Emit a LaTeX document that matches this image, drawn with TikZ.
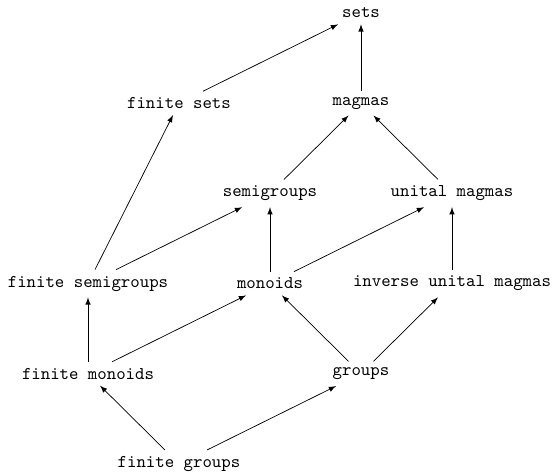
\documentclass[tikz,border=0pt]{standalone}
\usepackage{tikz}

\begin{document}
\begin{tikzpicture}[x=1.781cm, y=1.765cm, >=latex]
    \tikzstyle{every node} = [font=\ttfamily]
    \useasboundingbox (-0.967, 0.144) rectangle (5.099, -5.111);

    \node (s) at (3, 0) {sets};
    \node (fs) at (1, -1) {finite sets};
    \node (m) at (3, -1) {magmas};

    \node (sg) at (2, -2) {semigroups};
    \node (um) at (4, -2) {unital magmas};

    \node (fsg) at (0, -3) {finite semigroups};
    \node (mo) at (2, -3) {monoids};
    \node (ium) at (4, -3) {inverse unital magmas};

    \node (fmo) at (0, -4) {finite monoids};
    \node (g) at (3, -4) {groups};

    \node (fg) at (1, -5) {finite groups};

    \draw [->] (fs) -- (s);
    \draw [->] (m) -- (s);
    \draw [->] (sg) -- (m);
    \draw [->] (um) -- (m);
    \draw [->] (fsg) -- (fs);
    \draw [->] (fsg) -- (sg);
    \draw [->] (mo) -- (sg);
    \draw [->] (mo) -- (um);
    \draw [->] (ium) -- (um);
    \draw [->] (fmo) -- (fsg);
    \draw [->] (fmo) -- (mo);
    \draw [->] (g) -- (mo);
    \draw [->] (g) -- (ium);
    \draw [->] (fg) -- (fmo);
    \draw [->] (fg) -- (g);
\end{tikzpicture}
\end{document}
